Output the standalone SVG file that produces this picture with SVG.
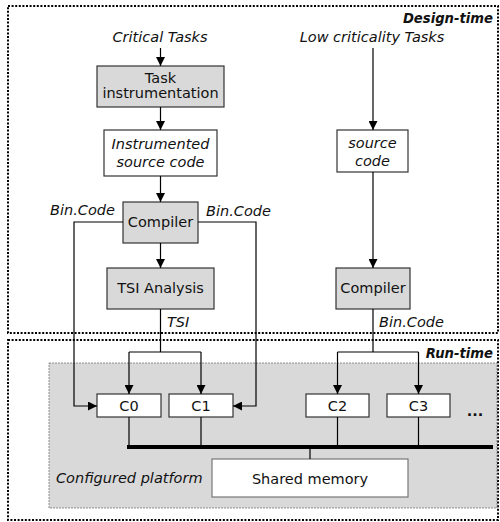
<svg xmlns="http://www.w3.org/2000/svg" width="500" height="522" viewBox="0 0 500 522">
<style>
text{font-family:"DejaVu Sans","Liberation Sans",sans-serif;font-size:14.5px;fill:#111}
.it{font-style:italic}
.bi{font-style:italic;font-weight:bold;font-size:13.2px}
.gray{fill:#d9d9d9;stroke:#333;stroke-width:1.2}
.white{fill:#fff;stroke:#333;stroke-width:1.2}
.zone{fill:none;stroke:#000;stroke-width:2;stroke-dasharray:2 1.6}
.ln{fill:none;stroke:#000;stroke-width:1.2}
</style>
<defs>
<marker id="ah" viewBox="0 0 10 10" refX="10" refY="5" markerWidth="9" markerHeight="9" markerUnits="userSpaceOnUse" orient="auto">
<path d="M0,0 L10,5 L0,10 z" fill="#000"/>
</marker>
</defs>
<g id="design-time">
<rect class="zone" x="8" y="6" width="490" height="327"/>
<text class="bi" x="493" y="23" text-anchor="end">Design-time</text>
</g>
<g id="run-time">
<rect class="zone" x="8" y="340" width="490" height="180"/>
<text class="bi" x="493" y="358" text-anchor="end">Run-time</text>
</g>
<g id="platform">
<rect x="49" y="363" width="448" height="145" fill="#d9d9d9" stroke="#777" stroke-width="0.8" stroke-dasharray="2 1"/>
<text class="it" x="56" y="483">Configured platform</text>
</g>
<g id="critical-tasks"><text class="it" x="160" y="42" text-anchor="middle">Critical Tasks</text></g>
<g id="low-tasks"><text class="it" x="372" y="42" text-anchor="middle">Low criticality Tasks</text></g>
<g id="task-instrumentation">
<rect class="gray" x="97" y="66" width="127" height="41"/>
<text x="160.5" y="83" text-anchor="middle">Task</text>
<text x="160.5" y="98" text-anchor="middle">instrumentation</text>
</g>
<g id="instrumented-source">
<rect class="white" x="104" y="130" width="113" height="46"/>
<text class="it" x="160.5" y="149" text-anchor="middle">Instrumented</text>
<text class="it" x="160.5" y="167" text-anchor="middle">source code</text>
</g>
<g id="compiler1">
<rect class="gray" x="123" y="202" width="75" height="41"/>
<text x="160.5" y="227" text-anchor="middle">Compiler</text>
</g>
<g id="tsi-analysis">
<rect class="gray" x="107" y="268" width="107" height="41"/>
<text x="160.5" y="293" text-anchor="middle">TSI Analysis</text>
</g>
<g id="source-code">
<rect class="white" x="337" y="130" width="71" height="42"/>
<text class="it" x="372.5" y="148" text-anchor="middle">source</text>
<text class="it" x="372.5" y="166" text-anchor="middle">code</text>
</g>
<g id="compiler2">
<rect class="gray" x="336" y="268" width="74" height="41"/>
<text x="373" y="293" text-anchor="middle">Compiler</text>
</g>
<g id="c0"><rect class="white" x="97" y="394" width="64" height="23"/><text x="129" y="411" text-anchor="middle">C0</text></g>
<g id="c1"><rect class="white" x="169" y="394" width="64" height="23"/><text x="201" y="411" text-anchor="middle">C1</text></g>
<g id="c2"><rect class="white" x="306" y="394" width="63" height="23"/><text x="337.5" y="411" text-anchor="middle">C2</text></g>
<g id="c3"><rect class="white" x="387" y="394" width="63" height="23"/><text x="418.5" y="411" text-anchor="middle">C3</text></g>
<g id="more"><text x="475" y="416" text-anchor="middle" font-weight="bold" font-size="18">...</text></g>
<g id="shared-memory">
<rect x="212" y="459" width="196" height="38" fill="#fff" stroke="#777" stroke-width="1.2"/>
<text x="310" y="484" text-anchor="middle">Shared memory</text>
</g>
<g id="connectors">
<line class="ln" x1="160.5" y1="48" x2="160.5" y2="66" marker-end="url(#ah)"/>
<line class="ln" x1="160.5" y1="107" x2="160.5" y2="130" marker-end="url(#ah)"/>
<line class="ln" x1="160.5" y1="176" x2="160.5" y2="202" marker-end="url(#ah)"/>
<line class="ln" x1="160.5" y1="243" x2="160.5" y2="268" marker-end="url(#ah)"/>
<polyline class="ln" points="123,222 74,222 74,406 97,406" marker-end="url(#ah)"/>
<polyline class="ln" points="198,222 256,222 256,406 233,406" marker-end="url(#ah)"/>
<text class="it" x="50" y="215">Bin.Code</text>
<text class="it" x="206" y="216">Bin.Code</text>
<polyline class="ln" points="160.5,309 160.5,352"/>
<polyline class="ln" points="129,352 201,352"/>
<line class="ln" x1="129" y1="352" x2="129" y2="394" marker-end="url(#ah)"/>
<line class="ln" x1="201" y1="352" x2="201" y2="394" marker-end="url(#ah)"/>
<text class="it" x="167" y="327">TSI</text>
<line class="ln" x1="373" y1="48" x2="373" y2="130" marker-end="url(#ah)"/>
<line class="ln" x1="373" y1="172" x2="373" y2="268" marker-end="url(#ah)"/>
<line class="ln" x1="373" y1="309" x2="373" y2="352"/>
<polyline class="ln" points="337.5,352 418.5,352"/>
<line class="ln" x1="337.5" y1="352" x2="337.5" y2="394" marker-end="url(#ah)"/>
<line class="ln" x1="418.5" y1="352" x2="418.5" y2="394" marker-end="url(#ah)"/>
<text class="it" x="379" y="327">Bin.Code</text>
<line x1="127" y1="447" x2="493" y2="447" stroke="#000" stroke-width="4"/>
<line class="ln" x1="129" y1="417" x2="129" y2="447"/>
<line class="ln" x1="201" y1="417" x2="201" y2="447"/>
<line class="ln" x1="337.5" y1="417" x2="337.5" y2="447"/>
<line class="ln" x1="418.5" y1="417" x2="418.5" y2="447"/>
<line class="ln" x1="310" y1="447" x2="310" y2="459"/>
</g>
</svg>
